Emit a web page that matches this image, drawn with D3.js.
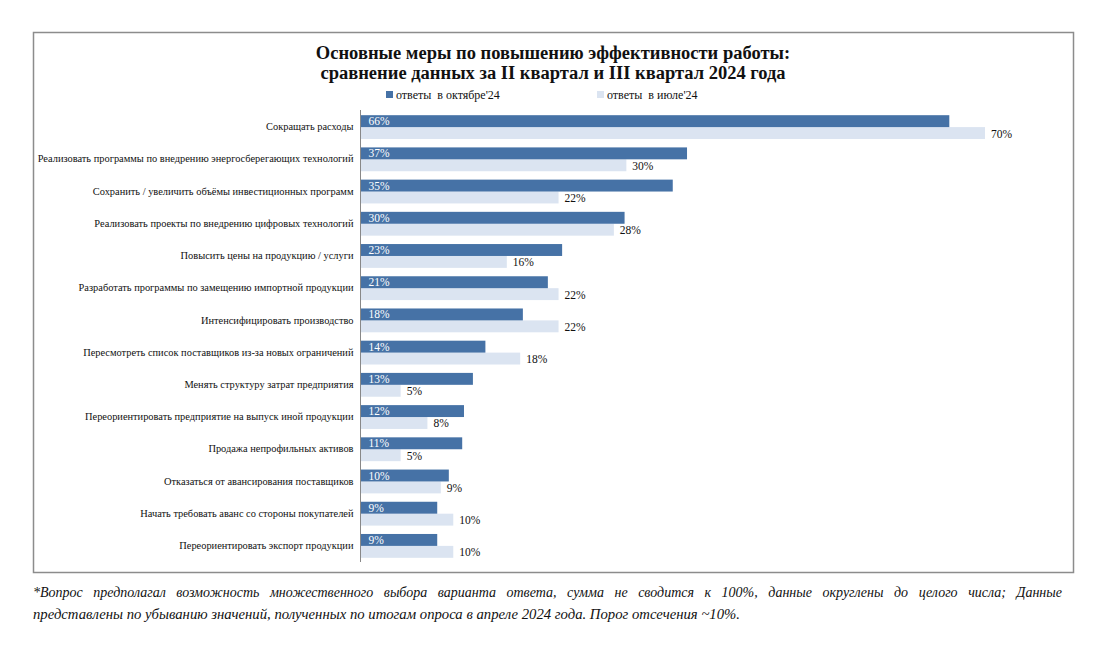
<!DOCTYPE html>
<html><head><meta charset="utf-8">
<script src="https://cdn.jsdelivr.net/npm/d3@7"></script>
<style>body{margin:0;background:#fff}svg{display:block}svg text{font-family:"Liberation Serif","Times New Roman",serif !important}</style>
</head><body>
<svg id="c" width="1094" height="648"></svg>
<script>
const categories = [
  "Сокращать расходы",
  "Реализовать программы по внедрению энергосберегающих технологий",
  "Сохранить / увеличить объёмы инвестиционных программ",
  "Реализовать проекты по внедрению цифровых технологий",
  "Повысить цены на продукцию / услуги",
  "Разработать программы по замещению импортной продукции",
  "Интенсифицировать производство",
  "Пересмотреть список поставщиков из-за новых ограничений",
  "Менять структуру затрат предприятия",
  "Переориентировать предприятие на выпуск иной продукции",
  "Продажа непрофильных активов",
  "Отказаться от авансирования поставщиков",
  "Начать требовать аванс со стороны покупателей",
  "Переориентировать экспорт продукции"
];
const octValues = [66, 36.6, 35, 29.6, 22.6, 21, 18.2, 14, 12.6, 11.6, 11.4, 9.9, 8.6, 8.6];
const julValues = [70, 29.8, 22.2, 28.4, 16.4, 22.2, 22.2, 17.9, 4.5, 7.5, 4.5, 9, 10.4, 10.4];
const seriesNames = ["ответы  в октябре'24", "ответы  в июле'24"];
const titleLines = ["Основные меры по повышению эффективности работы:", "сравнение данных за II квартал и III квартал 2024 года"];
const footLines = [
  "*Вопрос предполагал возможность множественного выбора варианта ответа, сумма не сводится к 100%, данные округлены до целого числа; Данные",
  "представлены по убыванию значений, полученных по итогам опроса в апреле 2024 года. Порог отсечения ~10%."
];
const colors = ["#4672a6", "#dbe4f1"];

const svg = d3.select("#c");
svg.append("rect").attr("x",33.5).attr("y",32.5).attr("width",1040).attr("height",540)
  .attr("fill","none").attr("stroke","#8c8c8c").attr("stroke-width",1.5);

svg.selectAll("text.title").data(titleLines).join("text").attr("class","title")
  .attr("x",553).attr("y",(d,i)=>59+i*20).attr("text-anchor","middle")
  .attr("font-size",18.5).attr("font-weight","bold").attr("fill","#111").text(d=>d);

const legX = [386, 597];
const leg = svg.selectAll("g.leg").data(seriesNames).join("g").attr("class","leg")
  .attr("transform",(d,i)=>`translate(${legX[i]},91)`);
leg.append("rect").attr("width",7).attr("height",7).attr("fill",(d,i)=>colors[i]);
leg.append("text").attr("x",10).attr("y",7.5).attr("font-size",12).attr("fill","#111")
  .style("white-space","pre").text(d=>d);

const x = d3.scaleLinear().domain([0,70]).range([360.5, 985]);
const y = d3.scaleBand().domain(categories).range([111, 562]).paddingInner(0.26).paddingOuter(0.13);
const sub = d3.scaleBand().domain([0,1]).range([0, y.bandwidth()]);

const g = svg.append("g");
const rows = g.selectAll("g.row").data(categories).join("g").attr("class","row")
  .attr("transform",d=>`translate(0,${y(d)})`);

rows.append("rect").attr("x",x(0)).attr("y",sub(1)).attr("height",sub.bandwidth())
  .attr("width",(d,i)=>x(julValues[i])-x(0)).attr("fill",colors[1]);
rows.append("rect").attr("x",x(0)).attr("y",sub(0)).attr("height",sub.bandwidth())
  .attr("width",(d,i)=>x(octValues[i])-x(0)).attr("fill",colors[0]);

rows.append("text").attr("x",x(0)+8).attr("y",sub(0)+sub.bandwidth()/2+4)
  .attr("font-size",11.5).attr("fill","#fff").text((d,i)=>Math.round(octValues[i])+"%");
rows.append("text").attr("x",(d,i)=>x(julValues[i])+6).attr("y",sub(1)+sub.bandwidth()/2+4.5)
  .attr("font-size",11.5).attr("fill","#111").text((d,i)=>Math.round(julValues[i])+"%");

const yAxis = d3.axisLeft(y).tickSize(0).tickPadding(7);
const ax = svg.append("g").attr("transform",`translate(${x(0)},0)`).call(yAxis);
ax.select(".domain").attr("stroke","#888").attr("d",`M0,110V562`);
ax.selectAll("text").attr("font-size",10.4).attr("fill","#111").attr("dy","0.3em");

svg.selectAll("text.foot").data(footLines).join("text").attr("class","foot")
  .attr("x",33).attr("y",(d,i)=>597+i*22).attr("font-size",14).attr("font-style","italic").attr("fill","#111")
  .text(d=>d)
  .each(function(d,i){
    const t = d3.select(this);
    if(i===0){
      const len = this.getComputedTextLength();
      const spaces = (d.match(/ /g)||[]).length;
      t.attr("word-spacing", Math.max(0,(1029-len)/spaces));
    } else {
      t.attr("textLength",707).attr("lengthAdjust","spacingAndGlyphs");
    }
  });
</script>
</body></html>
